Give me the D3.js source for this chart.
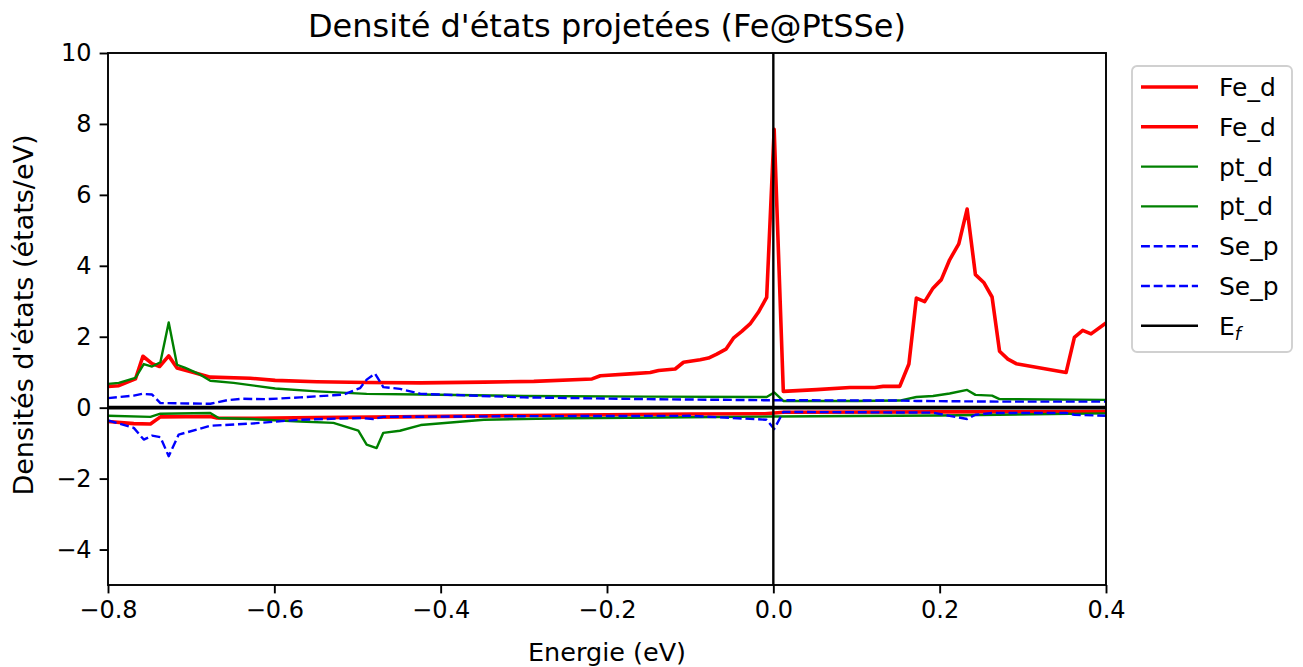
<!DOCTYPE html>
<html>
<head>
<meta charset="utf-8">
<script src="https://cdn.jsdelivr.net/npm/d3@7"></script>
<style>
  body { margin: 0; background: #fff; }
  text { font-family: 'DejaVu Sans', sans-serif; fill: #000; }
</style>
</head>
<body>
<div id="chart"></div>
<script>
// energies (eV) and densities (états/eV)
const feUpE = [-0.80, -0.787, -0.767, -0.758, -0.747, -0.738, -0.727, -0.717, -0.697, -0.677, -0.629, -0.599, -0.549, -0.489, -0.424, -0.348, -0.288, -0.218, -0.208, -0.168, -0.148, -0.138, -0.118, -0.108, -0.088, -0.078, -0.068, -0.057, -0.048, -0.038, -0.028, -0.018, -0.008, 0.001, 0.012, 0.052, 0.092, 0.122, 0.132, 0.152, 0.163, 0.172, 0.182, 0.192, 0.202, 0.212, 0.223, 0.233, 0.243, 0.253, 0.263, 0.272, 0.282, 0.292, 0.352, 0.362, 0.372, 0.382, 0.40]
const feUp = [0.60, 0.62, 0.81, 1.45, 1.24, 1.16, 1.46, 1.12, 0.99, 0.86, 0.83, 0.77, 0.73, 0.71, 0.70, 0.72, 0.74, 0.81, 0.90, 0.96, 0.99, 1.05, 1.09, 1.28, 1.35, 1.40, 1.51, 1.65, 1.96, 2.15, 2.36, 2.69, 3.11, 7.85, 0.46, 0.51, 0.57, 0.57, 0.60, 0.60, 1.23, 3.09, 2.99, 3.37, 3.61, 4.17, 4.62, 5.60, 3.75, 3.53, 3.12, 1.59, 1.37, 1.24, 0.99, 1.98, 2.18, 2.08, 2.39]

const feDnE = [-0.80, -0.769, -0.749, -0.737, -0.677, -0.669, -0.629, -0.55, -0.45, -0.30, -0.10, -0.01, 0.012, 0.20, 0.40]
const feDn = [-0.39, -0.45, -0.46, -0.26, -0.25, -0.29, -0.30, -0.28, -0.26, -0.22, -0.18, -0.17, -0.13, -0.12, -0.11]

const ptUpE = [-0.80, -0.787, -0.767, -0.757, -0.747, -0.737, -0.727, -0.717, -0.707, -0.689, -0.677, -0.649, -0.599, -0.549, -0.489, -0.424, -0.30, -0.15, -0.008, 0.001, 0.012, 0.10, 0.152, 0.172, 0.192, 0.212, 0.233, 0.243, 0.263, 0.272, 0.40]
const ptUp = [0.67, 0.70, 0.84, 1.23, 1.16, 1.28, 2.40, 1.21, 1.12, 0.93, 0.76, 0.70, 0.54, 0.46, 0.39, 0.37, 0.33, 0.31, 0.30, 0.43, 0.19, 0.19, 0.20, 0.30, 0.33, 0.40, 0.50, 0.36, 0.34, 0.24, 0.22]

const ptDnE = [-0.80, -0.749, -0.737, -0.677, -0.667, -0.629, -0.569, -0.529, -0.499, -0.489, -0.477, -0.469, -0.449, -0.424, -0.348, -0.25, -0.10, 0.0, 0.20, 0.40]
const ptDn = [-0.23, -0.26, -0.17, -0.15, -0.29, -0.32, -0.39, -0.43, -0.65, -1.04, -1.14, -0.71, -0.65, -0.49, -0.34, -0.30, -0.27, -0.25, -0.22, -0.16]

const seUpE = [-0.80, -0.769, -0.759, -0.747, -0.737, -0.677, -0.657, -0.639, -0.609, -0.569, -0.529, -0.517, -0.497, -0.489, -0.479, -0.469, -0.449, -0.424, -0.30, -0.15, -0.008, 0.012, 0.152, 0.172, 0.272, 0.40]
const seUp = [0.27, 0.34, 0.39, 0.37, 0.13, 0.11, 0.21, 0.25, 0.24, 0.29, 0.35, 0.37, 0.55, 0.79, 0.96, 0.58, 0.53, 0.39, 0.29, 0.24, 0.21, 0.21, 0.20, 0.19, 0.17, 0.17]

const seDnE = [-0.80, -0.769, -0.757, -0.747, -0.737, -0.727, -0.715, -0.677, -0.629, -0.569, -0.497, -0.481, -0.469, -0.30, -0.10, -0.008, 0.001, 0.012, 0.192, 0.212, 0.233, 0.243, 0.263, 0.352, 0.362, 0.40]
const seDn = [-0.36, -0.57, -0.90, -0.79, -0.83, -1.37, -0.76, -0.51, -0.45, -0.34, -0.29, -0.32, -0.26, -0.24, -0.23, -0.34, -0.60, -0.12, -0.14, -0.23, -0.32, -0.20, -0.15, -0.15, -0.20, -0.23]

const xTicks = [-0.8, -0.6, -0.4, -0.2, 0.0, 0.2, 0.4]
const yTicks = [-4, -2, 0, 2, 4, 6, 8, 10]
const fermi = 0

const dashed = '8.9,3.8'
const series = [
  { name: 'Fe_d', e: feUpE, v: feUp, color: '#ff0000', width: 3.6, dash: null },
  { name: 'Fe_d', e: feDnE, v: feDn, color: '#ff0000', width: 3.6, dash: null },
  { name: 'pt_d', e: ptUpE, v: ptUp, color: '#008000', width: 2.4, dash: null },
  { name: 'pt_d', e: ptDnE, v: ptDn, color: '#008000', width: 2.4, dash: null },
  { name: 'Se_p', e: seUpE, v: seUp, color: '#0000ff', width: 2.4, dash: dashed },
  { name: 'Se_p', e: seDnE, v: seDn, color: '#0000ff', width: 2.4, dash: dashed }
]

const margin = { top: 53, right: 197, bottom: 82, left: 108 }
const W = 1303
const H = 667
const width = W - margin.left - margin.right
const height = H - margin.top - margin.bottom

const svg = d3.select('#chart').append('svg')
  .attr('width', W)
  .attr('height', H)

const g = svg.append('g')
  .attr('transform', `translate(${margin.left},${margin.top})`)

const x = d3.scaleLinear().domain([-0.8, 0.4]).range([0, width])
const y = d3.scaleLinear().domain([-5, 10]).range([height, 0])

g.append('clipPath').attr('id', 'clip')
  .append('rect').attr('width', width).attr('height', height)

const plot = g.append('g').attr('clip-path', 'url(#clip)')

series.forEach(s => {
  const pts = s.e.map((e, i) => [e, s.v[i]])
  plot.append('path')
    .datum(pts)
    .attr('fill', 'none')
    .attr('stroke', s.color)
    .attr('stroke-width', s.width)
    .attr('stroke-dasharray', s.dash)
    .attr('stroke-linejoin', 'round')
    .attr('d', d3.line().x(d => x(d[0])).y(d => y(d[1])))
})

// zero line and Fermi level
plot.append('line')
  .attr('x1', 0).attr('x2', width)
  .attr('y1', y(0)).attr('y2', y(0))
  .attr('stroke', '#000').attr('stroke-width', 3.6)

plot.append('line')
  .attr('x1', x(fermi)).attr('x2', x(fermi))
  .attr('y1', 0).attr('y2', height)
  .attr('stroke', '#000').attr('stroke-width', 2.4)

const fmt = d => (d < 0 ? '\u2212' : '') + d3.format('.1f')(Math.abs(d))

const xAxis = g.append('g')
  .attr('transform', `translate(0,${height})`)
  .call(d3.axisBottom(x).tickValues(xTicks).tickFormat(fmt).tickSize(8.4).tickPadding(8))
const yAxis = g.append('g')
  .call(d3.axisLeft(y).tickValues(yTicks).tickFormat(d => (d < 0 ? '\u2212' : '') + Math.abs(d)).tickSize(8.4).tickPadding(8))

;[xAxis, yAxis].forEach(a => {
  a.select('.domain').remove()
  a.selectAll('line').attr('stroke', '#000').attr('stroke-width', 1.9)
  a.selectAll('text').attr('font-size', 24).attr('font-family', 'DejaVu Sans, sans-serif').attr('fill', '#000')
})

g.append('rect')
  .attr('width', width).attr('height', height)
  .attr('fill', 'none').attr('stroke', '#000').attr('stroke-width', 1.9)

svg.append('text')
  .attr('x', margin.left + width / 2).attr('y', 37)
  .attr('text-anchor', 'middle')
  .attr('font-size', 32)
  .text("Densité d'états projetées (Fe@PtSSe)")

svg.append('text')
  .attr('x', margin.left + width / 2).attr('y', 661)
  .attr('text-anchor', 'middle')
  .attr('font-size', 25.5)
  .text('Energie (eV)')

svg.append('text')
  .attr('transform', 'translate(33,315) rotate(-90)')
  .attr('text-anchor', 'middle')
  .attr('font-size', 27)
  .text("Densités d'états (états/eV)")

// legend
const legend = svg.append('g').attr('transform', 'translate(1132,66)')
legend.append('rect')
  .attr('width', 160).attr('height', 286)
  .attr('rx', 5)
  .attr('fill', '#fff').attr('stroke', '#d0d0d0').attr('stroke-width', 1.9)

const entries = series.concat([{ name: 'E', sub: 'f', color: '#000', width: 2.4, dash: null }])
const step = 39.8
entries.forEach((s, i) => {
  const cy = 21 + i * step
  legend.append('line')
    .attr('x1', 9).attr('x2', 66)
    .attr('y1', cy).attr('y2', cy)
    .attr('stroke', s.color)
    .attr('stroke-width', s.width)
    .attr('stroke-dasharray', s.dash)
  const t = legend.append('text')
    .attr('x', 87).attr('y', cy + 9)
    .attr('font-size', 25)
    .text(s.name)
  if (s.sub) {
    t.append('tspan')
      .attr('font-size', 17.5)
      .attr('font-style', 'italic')
      .attr('dy', 5)
      .text(s.sub)
  }
})
</script>
</body>
</html>
